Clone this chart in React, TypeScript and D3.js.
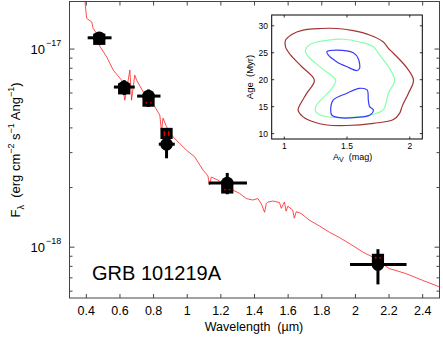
import React from 'react';
import * as d3 from 'd3';

// spectrum: wavelength (micron), flux in units of 1e-18 erg/cm2/s/A
const specWave = [0.392, 0.402, 0.432, 0.441, 0.461, 0.481, 0.521, 0.56, 0.61, 0.629, 0.659, 0.669, 0.688, 0.699, 0.738, 0.777, 0.807, 0.837, 0.847, 0.856, 0.877, 0.916, 0.955, 0.995, 1.044, 1.094, 1.123, 1.133, 1.143, 1.183, 1.272, 1.311, 1.351, 1.39, 1.42, 1.44, 1.46, 1.47, 1.479, 1.509, 1.549, 1.559, 1.578, 1.588, 1.598, 1.627, 1.637, 1.648, 1.677, 1.726, 1.786, 1.845, 1.904, 1.963, 2.043, 2.102, 2.201, 2.3, 2.398, 2.497];
const specFlux = [17.3, 14.3, 13.7, 12.7, 12.0, 10.3, 9.14, 7.83, 6.97, 5.52, 7.83, 5.52, 7.39, 6.97, 6.08, 5.52, 5.12, 4.64, 3.82, 4.48, 4.05, 3.6, 3.34, 3.09, 2.86, 2.45, 2.29, 2.06, 2.26, 2.18, 1.94, 1.87, 1.76, 1.73, 1.76, 1.66, 1.5, 1.66, 1.69, 1.71, 1.68, 1.57, 1.69, 1.52, 1.61, 1.54, 1.4, 1.51, 1.48, 1.37, 1.28, 1.19, 1.12, 1.045, 0.946, 0.893, 0.78, 0.736, 0.681, 0.632];

// photometry
const obsWave = [0.477, 0.625, 0.77, 0.877, 1.238, 2.134];
const obsFlux = [11.4, 6.43, 5.79, 3.31, 2.11, 0.817];
const obsFluxLo = [10.5, 5.86, 5.1, 2.81, 1.85, 0.649];
const obsFluxHi = [12.2, 6.97, 6.25, 3.9, 2.37, 0.977];
const obsWaveLo = [0.408, 0.564, 0.702, 0.831, 1.127, 1.968];
const obsWaveHi = [0.55, 0.688, 0.841, 0.926, 1.355, 2.304];
const modelFlux = [11.2, 6.3, 5.46, 3.75, 1.99, 0.868];

const xTicks = [0.4, 0.6, 0.8, 1, 1.2, 1.4, 1.6, 1.8, 2, 2.2, 2.4];
const yMajor = [1, 10];
const yMinor = [0.6, 0.7, 0.8, 0.9, 2, 3, 4, 5, 6, 7, 8, 9];

// inset contours: [Av (mag), Age (Myr)]
const contourOuter = [[1.24, 19.9], [1.18, 17.5], [1.12, 15.1], [1.11, 14.4], [1.15, 13.1], [1.23, 12.2], [1.34, 11.6], [1.5, 11.5], [1.71, 11.9], [1.87, 12.6], [1.92, 13.8], [1.94, 15.1], [1.99, 17.5], [2.03, 19.9], [1.98, 22.1], [1.87, 24.9], [1.83, 25.8], [1.79, 27.0], [1.68, 28.3], [1.55, 29.1], [1.42, 29.5], [1.29, 29.5], [1.15, 29.2], [1.06, 28.4], [1.01, 27.3], [1.01, 26.1], [1.05, 24.6], [1.14, 22.4]];
const contourMid = [[1.41, 19.9], [1.37, 18.1], [1.29, 16.2], [1.25, 15.0], [1.25, 14.1], [1.29, 13.4], [1.39, 13.0], [1.52, 13.0], [1.68, 13.4], [1.79, 14.4], [1.81, 15.6], [1.83, 17.5], [1.88, 19.9], [1.83, 22.4], [1.76, 24.6], [1.71, 26.1], [1.6, 27.0], [1.47, 27.5], [1.34, 27.3], [1.22, 26.7], [1.17, 25.6], [1.18, 24.6], [1.3, 22.1]];
const contourInnerTop = [[1.34, 25.2], [1.42, 25.5], [1.55, 25.0], [1.59, 23.9], [1.6, 22.1], [1.58, 21.7], [1.5, 22.4], [1.42, 23.3], [1.35, 24.6]];
const contourInnerLow = [[1.37, 14.4], [1.39, 16.2], [1.5, 17.5], [1.6, 18.4], [1.66, 18.1], [1.67, 16.2], [1.68, 15.0], [1.71, 14.4], [1.68, 13.4], [1.58, 13.0], [1.44, 12.95], [1.38, 13.4]];
const insetXTicks = [1, 1.5, 2];
const insetYTicks = [10, 15, 20, 25, 30];

const E = 1e-18;
const font = '"Liberation Sans", Arial, Helvetica, sans-serif';

export default function App() {
  const left = 69.5, right = 439.5, top = 1.5, bottom = 298;
  const x = d3.scaleLinear().domain([0.3, 2.5]).range([left, right]);
  const y = d3.scaleLog().domain([0.554 * E, 17.38 * E]).range([bottom, top]);

  const ix = d3.scaleLinear().domain([0.9, 2.1]).range([271.7, 422.3]);
  const iy = d3.scaleLinear().domain([9, 32]).range([139, 15]);

  const spec = d3.line<number>()
    .x((d, i) => x(specWave[i]))
    .y((d) => y(d * E))(specFlux);

  const contour = d3.line<number[]>()
    .x(d => ix(d[0]))
    .y(d => iy(d[1]))
    .curve(d3.curveCatmullRomClosed.alpha(0.5));

  const axisColor = '#444';

  return (
    <svg width={443} height={338} style={{ position: 'absolute', left: 0, top: 0, background: '#fff' }}
      fontFamily={font}>
      <rect width={443} height={338} fill="#fff" />

      {/* spectrum */}
      <path d={spec ?? ''} fill="none" stroke="#ff2020" strokeWidth={0.8} />

      {/* model points */}
      {obsWave.map((w, i) => (
        <rect key={'m' + i} x={x(w) - 4.5} y={y(modelFlux[i] * E) - 4} width={9} height={8}
          fill="#e00000" stroke="#000" strokeWidth={3.2} />
      ))}

      {/* observed points with error bars */}
      {obsWave.map((w, i) => (
        <g key={'o' + i}>
          <line x1={x(obsWaveLo[i])} x2={x(obsWaveHi[i])} y1={y(obsFlux[i] * E)} y2={y(obsFlux[i] * E)}
            stroke="#000" strokeWidth={3} />
          <line x1={x(w)} x2={x(w)} y1={y(obsFluxLo[i] * E)} y2={y(obsFluxHi[i] * E)}
            stroke="#000" strokeWidth={3} />
          <circle cx={x(w)} cy={y(obsFlux[i] * E)} r={6.3} fill="#000" />
        </g>
      ))}

      {/* axes frame */}
      <rect x={left} y={top} width={right - left} height={bottom - top} fill="none" stroke={axisColor} strokeWidth={1} />
      {xTicks.map(t => (
        <g key={'xt' + t}>
          <line x1={x(t)} x2={x(t)} y1={bottom} y2={bottom - 4} stroke={axisColor} />
          <line x1={x(t)} x2={x(t)} y1={top} y2={top + 4} stroke={axisColor} />
          <text x={x(t)} y={315} textAnchor="middle" fontSize={12.5}>{t}</text>
        </g>
      ))}
      {yMajor.map(t => (
        <g key={'ym' + t}>
          <line x1={left} x2={left + 5} y1={y(t * E)} y2={y(t * E)} stroke={axisColor} />
          <line x1={right} x2={right - 5} y1={y(t * E)} y2={y(t * E)} stroke={axisColor} />
          <text x={45} y={y(t * E) + 5} textAnchor="end" fontSize={13}>10</text>
          <text x={46} y={y(t * E) - 3} fontSize={9}>{t === 1 ? '\u221218' : '\u221217'}</text>
        </g>
      ))}
      {yMinor.map(t => (
        <g key={'yn' + t}>
          <line x1={left} x2={left + 3} y1={y(t * E)} y2={y(t * E)} stroke={axisColor} />
          <line x1={right} x2={right - 3} y1={y(t * E)} y2={y(t * E)} stroke={axisColor} />
        </g>
      ))}

      {/* axis labels */}
      <text x={254} y={331} textAnchor="middle" fontSize={12.5} xmlSpace="preserve">Wavelength  (µm)</text>
      <text transform="translate(20,150) rotate(-90)" textAnchor="middle" fontSize={13} xmlSpace="preserve">
        F<tspan fontSize={9} dy={4}>λ</tspan><tspan dy={-4}>  (erg cm</tspan>
        <tspan fontSize={9} dy={-6}>−2</tspan><tspan dy={6}> s</tspan>
        <tspan fontSize={9} dy={-6}>−1</tspan><tspan dy={6}> Ang</tspan>
        <tspan fontSize={9} dy={-6}>−1</tspan><tspan dy={6}>)</tspan>
      </text>

      <text x={92} y={280} fontSize={20}>GRB 101219A</text>

      {/* inset */}
      <rect x={271.7} y={15} width={150.6} height={124} fill="#fff" stroke="#000" strokeWidth={1} />
      <path d={contour(contourOuter) ?? ''} fill="none" stroke="#a33333" strokeWidth={1.2} />
      <path d={contour(contourMid) ?? ''} fill="none" stroke="#88ffaa" strokeWidth={1.2} />
      <path d={contour(contourInnerTop) ?? ''} fill="none" stroke="#3a3aff" strokeWidth={1.2} />
      <path d={contour(contourInnerLow) ?? ''} fill="none" stroke="#3a3aff" strokeWidth={1.2} />
      {insetXTicks.map(t => (
        <g key={'ix' + t}>
          <line x1={ix(t)} x2={ix(t)} y1={139} y2={136.5} stroke="#000" strokeWidth={0.8} />
          <line x1={ix(t)} x2={ix(t)} y1={15} y2={17.5} stroke="#000" strokeWidth={0.8} />
          <text x={ix(t)} y={149} textAnchor="middle" fontSize={8.5}>{t}</text>
        </g>
      ))}
      {insetYTicks.map(t => (
        <g key={'iy' + t}>
          <line x1={271.7} x2={274.2} y1={iy(t)} y2={iy(t)} stroke="#000" strokeWidth={0.8} />
          <line x1={422.3} x2={419.8} y1={iy(t)} y2={iy(t)} stroke="#000" strokeWidth={0.8} />
          <text x={268} y={iy(t) + 3} textAnchor="end" fontSize={8.5}>{t}</text>
        </g>
      ))}
      <text x={333} y={159.5} fontSize={9} xmlSpace="preserve">
        A<tspan fontSize={7} dy={2}>V</tspan><tspan dy={-2}>  (mag)</tspan>
      </text>
      <text transform="translate(253,77) rotate(-90)" textAnchor="middle" fontSize={9.5} xmlSpace="preserve">Age  (Myr)</text>
    </svg>
  );
}
